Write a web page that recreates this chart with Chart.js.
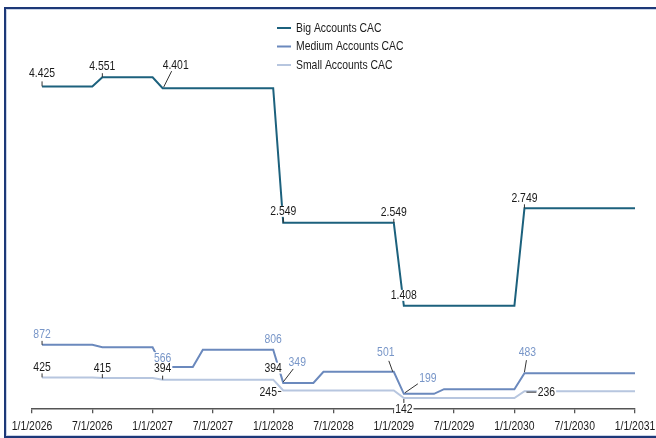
<!DOCTYPE html>
<html>
<head>
<meta charset="utf-8">
<script src="https://cdn.jsdelivr.net/npm/chart.js@4.4.1/dist/chart.umd.min.js"></script>
<style>
  html, body { margin: 0; padding: 0; background: #ffffff; overflow: hidden; }
  #wrap { position: relative; width: 656px; height: 438px; }
  #frame {
    position: absolute; left: 4px; top: 7px; width: 700px; height: 431px;
    box-sizing: border-box; border: 2px solid #1d3878;
    box-shadow: inset 0 0 0 1px #c9d3e6; pointer-events: none;
  }
</style>
</head>
<body>
<div id="wrap">
  <canvas id="chart" width="656" height="438"></canvas>
  <div id="frame"></div>
</div>
<script>
// Monthly customer acquisition cost by account size (month 1 = end of Jan 2026)
const seriesNames = ['Big Accounts CAC', 'Medium Accounts CAC', 'Small Accounts CAC'];

const bigCac = [
  4425, 4425, 4425, 4425, 4425, 4425,
  4551, 4551, 4551, 4551, 4551, 4551,
  4401, 4401, 4401, 4401, 4401, 4401, 4401, 4401, 4401, 4401, 4401, 4401,
  2549, 2549, 2549, 2549, 2549, 2549, 2549, 2549, 2549, 2549, 2549, 2549,
  1408, 1408, 1408, 1408, 1408, 1408, 1408, 1408, 1408, 1408, 1408, 1408,
  2749, 2749, 2749, 2749, 2749, 2749, 2749, 2749, 2749, 2749, 2749, 2749
];
const mediumCac = [
  872, 872, 872, 872, 872, 872,
  839, 839, 839, 839, 839, 839,
  566, 566, 566, 566,
  806, 806, 806, 806, 806, 806, 806, 806,
  349, 349, 349, 349,
  501, 501, 501, 501, 501, 501, 501, 501,
  199, 199, 199, 199,
  263, 263, 263, 263, 263, 263, 263, 263,
  483, 483, 483, 483, 483, 483, 483, 483, 483, 483, 483, 483
];
const smallCac = [
  425, 425, 425, 425, 425, 425,
  415, 415, 415, 415, 415, 415,
  394, 394, 394, 394, 394, 394, 394, 394, 394, 394, 394, 394,
  245, 245, 245, 245, 245, 245, 245, 245, 245, 245, 245, 245,
  142, 142, 142, 142, 142, 142, 142, 142, 142, 142, 142, 142,
  236, 236, 236, 236, 236, 236, 236, 236, 236, 236, 236, 236
];

// Axis ticks: months since 1/1/2026 and their labels
const tickMonths = [0, 6, 12, 18, 24, 30, 36, 42, 48, 54, 60];
const tickLabels = ['1/1/2026', '7/1/2026', '1/1/2027', '7/1/2027', '1/1/2028', '7/1/2028',
                    '1/1/2029', '7/1/2029', '1/1/2030', '7/1/2030', '1/1/2031'];

// Months whose values get a printed label, per series
const bigLabelMonths = [1, 7, 13, 25, 36, 37, 49];
const mediumLabelMonths = [1, 13, 24, 25, 36, 37, 49];
const smallLabelMonths = [1, 7, 13, 24, 25, 37, 49];

// Label placement relative to the point: text offset and leader segment
const labelPlacement = {
  0: { 1: [0, -13, 0, -5, 0, 0], 7: [0, -11, 0, -4, 0, 0], 13: [13, -23, 1, -1, 9, -17],
       25: [0, -11, 0, -5, 0, 0], 36: [0, -10, 0, -4, 0, 0], 37: [0, -10, 0, 0, 0, 0],
       49: [0, -10, 0, -4, 0, 0] },
  1: { 1: [0, -10, 0, -4, 0, 0], 13: [0, -9, 0, 0, 0, 0], 24: [0, -10, 0, 0, 0, 0],
       25: [14, -20, 0, -1, 10, -14], 36: [-8, -19, -1, 0, -5, -11], 37: [24, -15, 1, -1, 14, -10],
       49: [3, -21, 0, -1, 2, -13] },
  2: { 1: [0, -10, 0, -4, 0, 0], 7: [0, -10, 0, -4, 0, 0], 13: [0, -11, 0, -4, 0, 0],
       24: [0, -11, 0, 0, 0, 0], 25: [-15, 2, -2, 1, -6, 1], 37: [0, 11, 0, 1, 0, 5],
       49: [22, 1, 2, 1, 12, 1] }
};

const FONT = '13px "Liberation Sans", Arial, sans-serif';
const NARROW = 0.8;   // horizontal squeeze for a condensed face
const colors = ['#1c617d', '#6b89bd', '#b7c6df'];
const labelColors = ['#1a1a1a', '#7896c8', '#1a1a1a'];

function fmt(v) {
  const s = String(Math.round(v));
  return s.replace(/\B(?=(\d{3})+(?!\d))/g, '.');
}

function toPoints(values) {
  return values.map((v, i) => ({ x: i + 1, y: v }));
}

// Draws condensed text; align is 'center' or 'left'
function narrowText(ctx, text, x, y, align) {
  ctx.save();
  ctx.font = FONT;
  ctx.textAlign = align;
  ctx.textBaseline = 'middle';
  ctx.translate(x, y);
  ctx.scale(NARROW, 1);
  ctx.fillText(text, 0, 0);
  ctx.restore();
}

function narrowWidth(ctx, text) {
  ctx.save();
  ctx.font = FONT;
  const w = ctx.measureText(text).width * NARROW;
  ctx.restore();
  return w;
}

const valueLabels = {
  id: 'valueLabels',
  afterDatasetsDraw(chart) {
    const ctx = chart.ctx;
    const lists = [bigLabelMonths, mediumLabelMonths, smallLabelMonths];
    lists.forEach((months, si) => {
      const meta = chart.getDatasetMeta(si);
      const values = chart.data.datasets[si].data;
      months.forEach(m => {
        const pt = meta.data[m - 1];
        const p = labelPlacement[si][m];
        const x = pt.x, y = pt.y;
        const tx = x + p[0], ty = y + p[1];
        ctx.save();
        if (p[2] !== p[4] || p[3] !== p[5]) {
          ctx.strokeStyle = '#333';
          ctx.lineWidth = 1;
          ctx.beginPath();
          ctx.moveTo(x + p[2], y + p[3]);
          ctx.lineTo(x + p[4], y + p[5]);
          ctx.stroke();
        }
        const text = fmt(values[m - 1].y);
        const w = narrowWidth(ctx, text);
        ctx.fillStyle = '#ffffff';
        ctx.fillRect(tx - w / 2 - 1, ty - 6, w + 2, 11);
        ctx.fillStyle = labelColors[si];
        narrowText(ctx, text, tx, ty, 'center');
        ctx.restore();
      });
    });
  }
};

const axisLabels = {
  id: 'axisLabels',
  afterDraw(chart) {
    const ctx = chart.ctx;
    const scale = chart.scales.x;
    ctx.save();
    ctx.fillStyle = '#1a1a1a';
    tickMonths.forEach((v, i) => {
      narrowText(ctx, tickLabels[i], scale.getPixelForValue(v), scale.top + 18, 'center');
    });
    ctx.restore();
  }
};

const sideLegend = {
  id: 'sideLegend',
  afterDraw(chart) {
    const ctx = chart.ctx;
    const rows = [28, 46.5, 65];
    chart.data.datasets.forEach((ds, i) => {
      ctx.save();
      ctx.strokeStyle = ds.borderColor;
      ctx.lineWidth = 2;
      ctx.beginPath();
      ctx.moveTo(277, rows[i]);
      ctx.lineTo(291, rows[i]);
      ctx.stroke();
      ctx.fillStyle = '#1a1a1a';
      narrowText(ctx, ds.label, 296, rows[i], 'left');
      ctx.restore();
    });
  }
};

new Chart(document.getElementById('chart'), {
  type: 'line',
  data: {
    datasets: [
      { label: seriesNames[0], data: toPoints(bigCac), borderColor: colors[0] },
      { label: seriesNames[1], data: toPoints(mediumCac), borderColor: colors[1] },
      { label: seriesNames[2], data: toPoints(smallCac), borderColor: colors[2] }
    ].map(d => Object.assign(d, { borderWidth: 2, pointRadius: 0, tension: 0, fill: false }))
  },
  options: {
    responsive: false,
    animation: false,
    devicePixelRatio: 1,
    layout: { padding: { left: 32, right: 21, top: 30, bottom: 0 } },
    plugins: { legend: { display: false }, tooltip: { enabled: false } },
    scales: {
      x: {
        type: 'linear', min: 0, max: 60,
        afterBuildTicks(scale) { scale.ticks = tickMonths.map(v => ({ value: v })); },
        afterFit(scale) { scale.paddingLeft = 0; scale.paddingRight = 0; scale.height = 29.7; },
        ticks: { display: false, autoSkip: false, maxRotation: 0 },
        grid: { drawOnChartArea: false, drawTicks: true, tickLength: 5, color: '#555', lineWidth: 1.3 },
        border: { display: true, color: '#555', width: 1.5 }
      },
      y: { display: false, min: 0, max: 5200 }
    }
  },
  plugins: [valueLabels, axisLabels, sideLegend]
});
</script>
</body>
</html>
